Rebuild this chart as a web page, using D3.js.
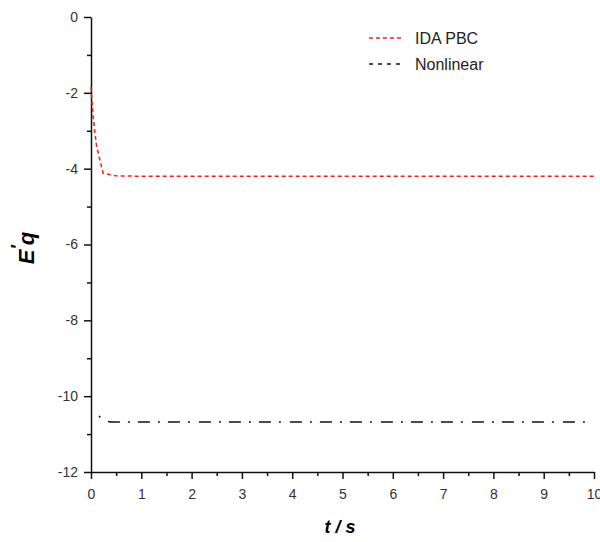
<!DOCTYPE html>
<html>
<head>
<meta charset="utf-8">
<script src="https://cdn.jsdelivr.net/npm/d3@7"></script>
<style>
  body { margin: 0; background: #fff; }
  svg { font-family: Arial, "Liberation Sans", sans-serif; }
</style>
</head>
<body>
<div id="chart"></div>
<script>
// IDA PBC response
var idaT = [0, 0.04, 0.11, 0.24, 0.5, 1, 10];
var idaV = [-1.85, -2.6, -3.4, -4.12, -4.19, -4.2, -4.2];

// Nonlinear response
var nlT = [0.16, 0.22, 0.38, 9.95];
var nlV = [-10.52, -10.62, -10.68, -10.68];

var xTicks = [0, 1, 2, 3, 4, 5, 6, 7, 8, 9, 10];
var yTicks = [0, -2, -4, -6, -8, -10, -12];

var seriesNames = ["IDA PBC", "Nonlinear"];

var width = 600, height = 542;
var margin = { left: 91, right: 6, top: 17, bottom: 70 };

var svg = d3.select('#chart')
    .append('svg')
    .attr('width', width)
    .attr('height', height);

var x = d3.scaleLinear().domain([0, 10]).range([margin.left, 594]);
var y = d3.scaleLinear().domain([-12, 0]).range([472, margin.top]);

var plain = function(d) { return String(d); };

/* axes */
svg.append('g')
    .attr('transform', 'translate(0,' + y(-12) + ')')
    .call(d3.axisBottom(x).tickValues(xTicks).tickFormat(plain).tickSize(7).tickSizeOuter(0).tickPadding(10));

svg.append('g')
    .attr('transform', 'translate(0,' + y(-12) + ')')
    .call(d3.axisBottom(x).tickValues(d3.range(0.5, 10, 1)).tickSize(4).tickFormat(''))
    .select('.domain').remove();

svg.append('g')
    .attr('transform', 'translate(' + x(0) + ',0)')
    .call(d3.axisLeft(y).tickValues(yTicks).tickFormat(plain).tickSize(7).tickSizeOuter(0).tickPadding(6));

svg.append('g')
    .attr('transform', 'translate(' + x(0) + ',0)')
    .call(d3.axisLeft(y).tickValues(d3.range(-11, 0, 2)).tickSize(4).tickFormat(''))
    .select('.domain').remove();

svg.selectAll('.domain').attr('stroke', '#111').attr('stroke-width', 1.5);
svg.selectAll('.tick line').attr('stroke', '#111').attr('stroke-width', 1.5);
svg.selectAll('.tick text').attr('font-size', 14).attr('fill', '#333');

/* lines */
var line = d3.line()
    .x(function(d) { return x(d[0]); })
    .y(function(d) { return y(d[1]); });

svg.append('path')
    .datum(d3.zip(idaT, idaV))
    .attr('d', line)
    .attr('fill', 'none')
    .attr('stroke', '#ff1a1a')
    .attr('stroke-width', 1.5)
    .attr('stroke-dasharray', '4,3');

svg.append('path')
    .datum(d3.zip(nlT, nlV))
    .attr('d', line)
    .attr('fill', 'none')
    .attr('stroke', '#111')
    .attr('stroke-width', 1.5)
    .attr('stroke-dasharray', '2,9,12,8,2,8,12,8,2,8,12,8');

/* legend */
var legend = svg.append('g');
var legendY = [38, 64];
var legendDash = ['4,3', '4,5'];
var legendColor = ['#ff1a1a', '#111'];

seriesNames.forEach(function(name, i) {
    legend.append('line')
        .attr('x1', 369).attr('x2', 404)
        .attr('y1', legendY[i]).attr('y2', legendY[i])
        .attr('stroke', legendColor[i])
        .attr('stroke-width', 1.5)
        .attr('stroke-dasharray', legendDash[i]);
    legend.append('text')
        .attr('x', 415).attr('y', legendY[i] + 6)
        .attr('font-size', 16)
        .attr('fill', '#222')
        .text(name);
});

/* axis labels */
svg.append('text')
    .attr('x', 340).attr('y', 533)
    .attr('text-anchor', 'middle')
    .attr('font-size', 18)
    .attr('font-weight', 'bold')
    .attr('font-style', 'italic')
    .text('t / s');

var yl = svg.append('text')
    .attr('transform', 'translate(34,248) rotate(-90)')
    .attr('text-anchor', 'middle')
    .attr('font-size', 22)
    .attr('font-weight', 'bold')
    .attr('font-style', 'italic');
yl.append('tspan').text('E');
yl.append('tspan').attr('dy', -10).attr('font-size', 18).text('\u2032');
yl.append('tspan').attr('dy', 10).text('q');
</script>
</body>
</html>
